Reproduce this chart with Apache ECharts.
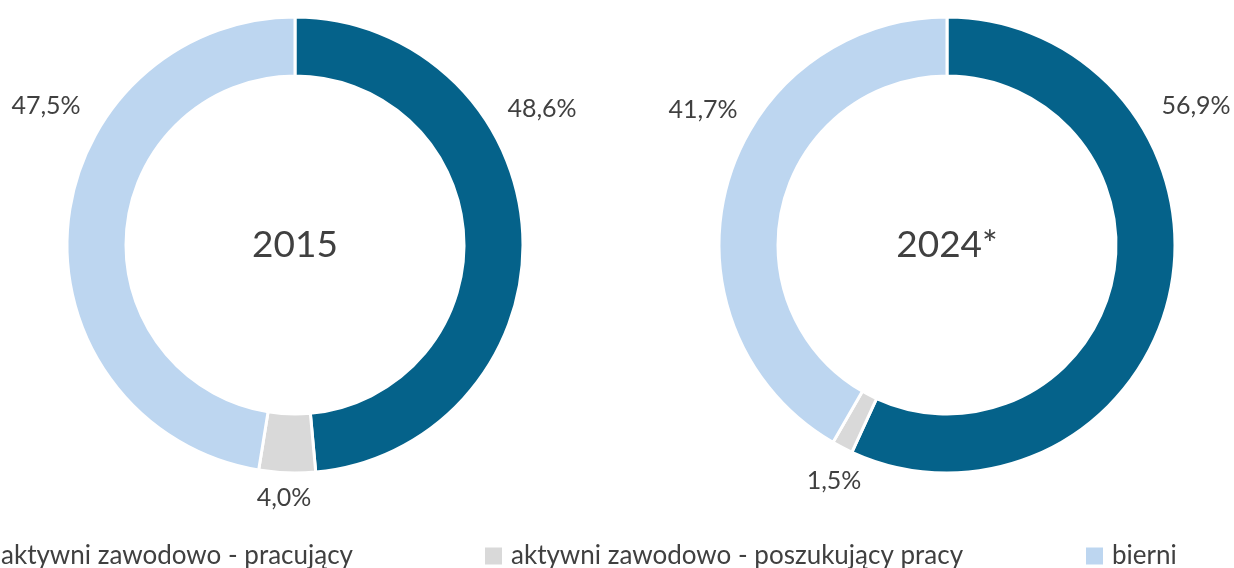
<!DOCTYPE html>
<html>
<head>
<meta charset="utf-8">
<script src="https://cdn.jsdelivr.net/npm/echarts@6/dist/echarts.min.js"></script>
<style>
html,body{margin:0;padding:0;background:#fff;}
#chart{width:1234px;height:568px;}
</style>
</head>
<body>
<div id="chart"></div>
<script>
// dane
var categories = ['aktywni zawodowo - pracujący', 'aktywni zawodowo - poszukujący pracy', 'bierni'];
var years = ['2015', '2024*'];
var values2015 = [48.6, 4.0, 47.5];
var values2024 = [56.9, 1.5, 41.7];

var colors = ['#05628A', '#D9D9D9', '#BDD6F0'];
var textColor = '#404040';
var font = 'Lato';

// pozycje etykiet (jak w Excelu, nie na środku łuku)
var labelPos = [
    [[542, 109], [284, 498], [46, 106]],
    [[1196, 106], [834, 481], [703, 110]]
];
var centers = [[295, 245], [947, 245]];

function fmt(v){
    return v.toFixed(1).replace('.', ',') + '%';
}

function makePie(idx, vals){
    return {
        type: 'pie',
        name: years[idx],
        center: centers[idx],
        radius: [169, 228],
        startAngle: 90,
        clockwise: true,
        silent: true,
        avoidLabelOverlap: false,
        itemStyle: {borderColor: '#fff', borderWidth: 3},
        label: {
            show: true,
            position: 'outside',
            formatter: function(p){ return fmt(p.value); },
            color: textColor,
            fontFamily: font,
            fontSize: 25,
            overflow: 'none',
            width: 100
        },
        labelLine: {show: false},
        labelLayout: function(p){
            var pos = labelPos[idx][p.dataIndex];
            return {x: pos[0], y: pos[1], align: 'center', verticalAlign: 'middle'};
        },
        data: vals.map(function(v, i){
            return {name: categories[i], value: v, itemStyle: {color: colors[i]}};
        })
    };
}

function makeLegend(i, left){
    return {
        data: [categories[i]],
        left: left,
        top: 543,
        padding: 0,
        itemWidth: 19,
        itemHeight: 19,
        icon: 'rect',
        selectedMode: false,
        textStyle: {color: textColor, fontFamily: font, fontSize: 26, padding: [0, 0, 0, 3]}
    };
}

var chart = echarts.init(document.getElementById('chart'));
chart.setOption({
    animation: false,
    legend: [makeLegend(0, -27), makeLegend(1, 483), makeLegend(2, 1084)],
    graphic: years.map(function(y, i){
        return {
            type: 'text',
            x: centers[i][0],
            y: centers[i][1],
            style: {text: y, fill: textColor, font: '37px Lato', textAlign: 'center', textVerticalAlign: 'middle'}
        };
    }),
    series: [makePie(0, values2015), makePie(1, values2024)]
});
</script>
</body>
</html>
